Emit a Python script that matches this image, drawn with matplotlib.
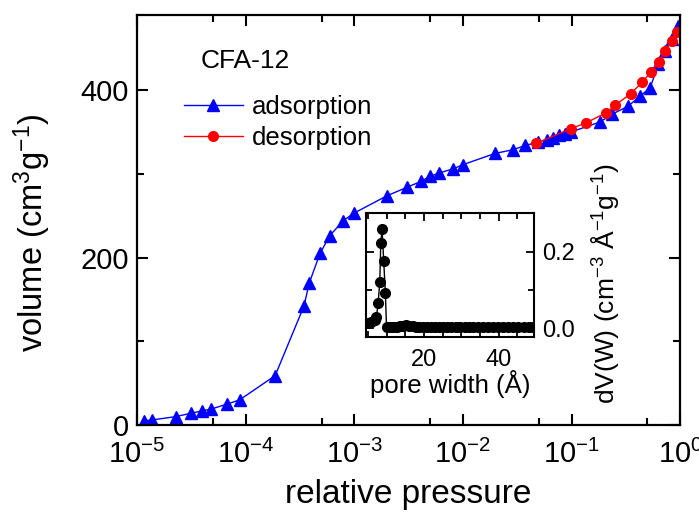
import matplotlib
matplotlib.use("Agg")
import matplotlib.pyplot as plt
from matplotlib.ticker import FixedLocator, MultipleLocator, NullFormatter

plt.rcParams["font.family"] = ["Liberation Sans", "DejaVu Sans"]
plt.rcParams["mathtext.fontset"] = "custom"
plt.rcParams["mathtext.rm"] = "Liberation Sans"
plt.rcParams["mathtext.it"] = "Liberation Sans:italic"
plt.rcParams["mathtext.bf"] = "Liberation Sans:bold"
plt.rcParams["mathtext.default"] = "regular"

# adsorption branch (relative pressure, volume cm3/g)
ads_p = [1.156e-5, 1.36e-5, 2.27e-5, 3.12e-5, 4.0e-5, 4.8e-5, 6.75e-5, 8.8e-5,
         1.87e-4, 3.44e-4, 3.86e-4, 4.84e-4, 5.94e-4, 7.89e-4, 9.9e-4,
         2.01e-3, 3.06e-3, 4.1e-3, 4.98e-3, 6.0e-3, 8.1e-3, 1.0e-2,
         0.0198, 0.0292, 0.0374, 0.0495, 0.0593, 0.0673, 0.0769, 0.0873,
         0.0984, 0.183, 0.234, 0.333, 0.429, 0.530, 0.631, 0.728, 0.838,
         0.964]
ads_v = [4.8, 6, 10, 14, 17, 19, 25, 30,
         59, 142, 170, 205, 226, 244, 253,
         274, 284, 291, 297, 301, 306, 311,
         324.5, 329, 334, 338, 341, 343, 346, 348,
         350, 362, 371, 381, 393, 403, 431, 447, 461,
         477]

# desorption branch
des_p = [0.0472, 0.0984, 0.136, 0.208, 0.252, 0.352, 0.450, 0.541, 0.641,
         0.728, 0.838, 0.931]
des_v = [336.5, 354, 361, 373, 382, 396, 410, 422, 434, 447, 459, 470]

# pore size distribution (inset)
pore_w = [5.07, 5.97, 6.85, 7.3, 7.75, 8.2, 8.45, 8.8, 9.25, 9.7, 10.0,
          10.7, 11.4, 12.1, 12.9, 13.7, 14.5, 15.3, 16.1, 17.0, 17.9, 18.8,
          19.8, 20.8, 21.8, 22.9, 24.0, 25.1, 26.2, 27.3, 28.5, 29.7, 30.9,
          32.1, 33.3, 34.6, 35.9, 37.2, 38.5, 39.8, 41.1, 42.5, 43.9, 45.3,
          46.7, 48.1, 49.3]
pore_dv = [0.013, 0.017, 0.022, 0.03, 0.065, 0.122, 0.222, 0.259, 0.175,
           0.091, 0.002,
           0.004, 0.004, 0.003, 0.004, 0.006, 0.007, 0.008, 0.006, 0.005,
           0.004, 0.004, 0.004, 0.003, 0.003, 0.002, 0.002, 0.002, 0.003,
           0.003, 0.003, 0.003, 0.003, 0.003, 0.003, 0.003, 0.003, 0.003,
           0.003, 0.003, 0.003, 0.003, 0.003, 0.003, 0.003, 0.003, 0.003]

fig = plt.figure(figsize=(6.99, 5.13), dpi=100)
ax = fig.add_axes([0.196, 0.1715, 0.777, 0.7995])

ax.plot(ads_p, ads_v, "-", color="#0000ff", lw=1.0, marker="^", ms=8,
        label="adsorption")
ax.plot(des_p, des_v, "-", color="#ff0000", lw=1.0, marker="o", ms=7,
        label="desorption")

ax.set_xscale("log")
ax.set_xlim(1e-5, 1)
ax.set_ylim(0, 490)
ax.xaxis.set_major_locator(FixedLocator([1e-5, 1e-4, 1e-3, 1e-2, 1e-1, 1]))
ax.xaxis.set_minor_locator(FixedLocator([5e-5, 5e-4, 5e-3, 5e-2, 5e-1]))
ax.xaxis.set_minor_formatter(NullFormatter())
ax.yaxis.set_major_locator(MultipleLocator(200))
ax.yaxis.set_minor_locator(MultipleLocator(100))
ax.tick_params(which="both", direction="in", top=True, right=True,
               width=1.5, labelsize=21)
ax.tick_params(which="major", length=8)
ax.tick_params(which="minor", length=5)
ax.tick_params(axis="x", pad=11)
ax.tick_params(axis="y", pad=6)
for s in ax.spines.values():
    s.set_linewidth(1.6)

ax.set_xlabel("relative pressure", fontsize=24, labelpad=7)
ax.set_ylabel("volume (cm$^{3}$g$^{-1}$)", fontsize=23.5)
ax.yaxis.set_label_coords(-0.155, 0.47)

ax.text(0.117, 0.8715, "CFA-12", transform=ax.transAxes, fontsize=19,
        ha="left", va="baseline")
ax.legend(loc="upper left", bbox_to_anchor=(0.086, 0.805), frameon=False,
          fontsize=18.5, handlelength=2.3, handletextpad=0.35,
          labelspacing=0.28, borderpad=0, borderaxespad=0)

# inset
ins = fig.add_axes([0.5236, 0.3437, 0.2403, 0.2417])
ins.plot(pore_w, pore_dv, "-", color="black", lw=1.0, marker="o", ms=7)
ins.set_xlim(4.5, 49.5)
ins.set_ylim(-0.022, 0.302)
ins.xaxis.set_major_locator(MultipleLocator(20))
ins.xaxis.set_minor_locator(MultipleLocator(5))
ins.yaxis.set_major_locator(MultipleLocator(0.2))
ins.yaxis.set_minor_locator(MultipleLocator(0.1))
ins.yaxis.tick_right()
ins.yaxis.set_label_position("right")
ins.tick_params(which="both", direction="in", top=True, left=True,
                right=True, width=1.3, labelsize=17)
ins.tick_params(which="major", length=6)
ins.tick_params(which="minor", length=4)
ins.tick_params(axis="y", pad=6)
ins.tick_params(axis="x", pad=9)
for s in ins.spines.values():
    s.set_linewidth(1.5)
ins.set_xlabel("pore width (Å)", fontsize=18.5, labelpad=-1)
ins.set_ylabel("dV(W) (cm$^{-3}$ Å$^{-1}$g$^{-1}$)", fontsize=19)
ins.yaxis.set_label_coords(1.33, 0.425)

fig.savefig("out.png", dpi=100)
